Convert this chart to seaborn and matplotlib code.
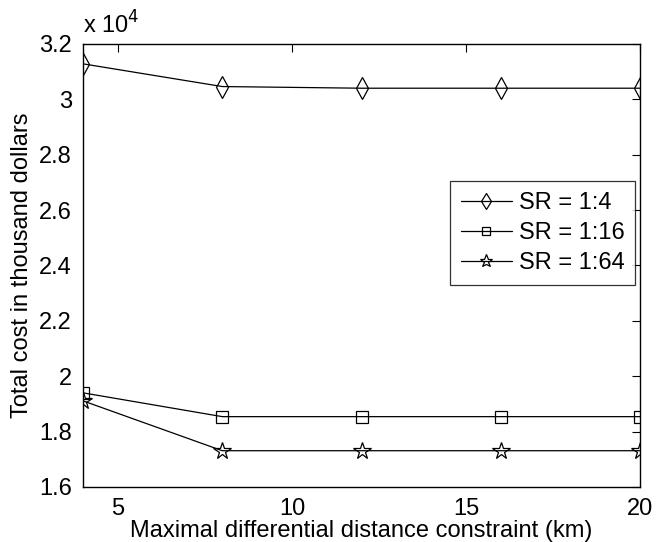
import matplotlib
matplotlib.use("Agg")
import matplotlib.pyplot as plt
import seaborn as sns
import pandas as pd
from matplotlib.ticker import FuncFormatter, FixedLocator

x_vals = [4, 8, 12, 16, 20]
sr_4 = [31280, 30460, 30400, 30400, 30400]
sr_16 = [19400, 18540, 18540, 18540, 18540]
sr_64 = [19110, 17310, 17310, 17310, 17310]
series_names = ["SR = 1:4", "SR = 1:16", "SR = 1:64"]
x_ticks = [5, 10, 15, 20]
y_ticks = [16000, 18000, 20000, 22000, 24000, 26000, 28000, 30000, 32000]

sns.set_theme(style="white")
plt.rcParams['font.family'] = ['Liberation Sans', 'DejaVu Sans']
plt.rcParams['font.size'] = 17
plt.rcParams['text.color'] = 'black'
plt.rcParams['axes.labelcolor'] = 'black'
FS = 17

rows = []
for name, vals in zip(series_names, [sr_4, sr_16, sr_64]):
    for xv, yv in zip(x_vals, vals):
        rows.append({"x": xv, "y": yv, "series": name})
df = pd.DataFrame(rows)

fig = plt.figure(figsize=(6.64, 5.42), dpi=100)
ax = fig.add_axes([0.125, 0.1015, 0.839, 0.8175])

markers = {"SR = 1:4": "d", "SR = 1:16": "s", "SR = 1:64": "*"}
sizes = {"SR = 1:4": 11, "SR = 1:16": 8, "SR = 1:64": 13}
for name in series_names:
    sub = df[df["series"] == name]
    sns.lineplot(data=sub, x="x", y="y", ax=ax, color="black", linewidth=0.9,
                 marker=markers[name], markersize=sizes[name],
                 markerfacecolor="none", markeredgecolor="black",
                 markeredgewidth=0.9, label=name, legend=False)

ax.set_xlim(4, 20)
ax.set_ylim(16000, 32000)
ax.xaxis.set_major_locator(FixedLocator(x_ticks))
ax.yaxis.set_major_locator(FixedLocator(y_ticks))
ax.yaxis.set_major_formatter(FuncFormatter(lambda v, p: "%g" % (v / 1e4)))
ax.tick_params(direction="in", length=6, width=0.8, top=True, right=True,
               labelsize=FS, colors="black", labelcolor="black", pad=8)
for s in ax.spines.values():
    s.set_color("black")
    s.set_linewidth(1.0)

ax.set_xlabel("Maximal differential distance constraint (km)", fontsize=FS,
              labelpad=0, color="black")
ax.set_ylabel("Total cost in thousand dollars", fontsize=FS, labelpad=4,
              color="black")

ax.text(0.0, 1.012, "x 10$^{4}$", transform=ax.transAxes, fontsize=FS,
        ha="left", va="bottom", color="black")

leg = ax.legend(loc="upper right", bbox_to_anchor=(0.991, 0.69), fontsize=FS,
                frameon=True, fancybox=False, edgecolor="black",
                handlelength=2.15, handletextpad=0.3, borderpad=0.45,
                labelspacing=0.35, borderaxespad=0, markerscale=0.75)
leg.get_frame().set_linewidth(0.9)
for t in leg.get_texts():
    t.set_color("black")

fig.savefig("out.png", dpi=100, facecolor="white")
